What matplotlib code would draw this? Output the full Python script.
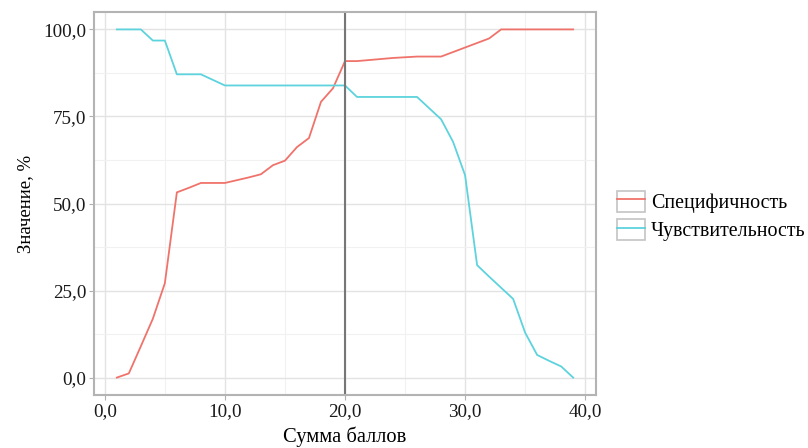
import numpy as np
import matplotlib.pyplot as plt
from matplotlib.lines import Line2D
from matplotlib.patches import Patch
from matplotlib.legend_handler import HandlerTuple
from matplotlib.ticker import MultipleLocator, FuncFormatter

plt.rcParams['font.family'] = ['Liberation Serif', 'DejaVu Serif']

# Сумма баллов и значения чувствительности / специфичности, %
score = list(range(1, 40))
specificity = [0.0, 1.2, 9.0, 16.9, 27.1, 53.2, 54.5, 55.9, 55.9, 55.9,
               56.7, 57.5, 58.4, 61.0, 62.3, 66.2, 68.8, 79.2, 83.1, 90.9,
               90.9, 91.2, 91.5, 91.8, 92.0, 92.2, 92.2, 92.2, 93.5, 94.8,
               96.1, 97.4, 100.0, 100.0, 100.0, 100.0, 100.0, 100.0, 100.0]
sensitivity = [100.0, 100.0, 100.0, 96.8, 96.8, 87.1, 87.1, 87.1, 85.5, 83.9,
               83.9, 83.9, 83.9, 83.9, 83.9, 83.9, 83.9, 83.9, 83.9, 83.9,
               80.6, 80.6, 80.6, 80.6, 80.6, 80.6, 77.4, 74.2, 67.7, 58.1,
               32.3, 29.0, 25.8, 22.6, 12.9, 6.5, 4.8, 3.2, 0.0]
cutoff = 20

red = '#F0736B'
cyan = '#5DD3DD'

fig = plt.figure(figsize=(8.08, 4.48), dpi=100)
ax = fig.add_axes([94 / 808, 1 - 395 / 448, 502 / 808, 383 / 448])

ax.plot(score, specificity, color=red, lw=1.3, label='Специфичность')
ax.plot(score, sensitivity, color=cyan, lw=1.3, label='Чувствительность')
ax.axvline(cutoff, color='#777777', lw=1.5)

ax.set_xlim(-0.9, 40.9)
ax.set_ylim(-5, 105)
ax.xaxis.set_major_locator(MultipleLocator(10))
ax.xaxis.set_minor_locator(MultipleLocator(5))
ax.yaxis.set_major_locator(MultipleLocator(25))
ax.yaxis.set_minor_locator(MultipleLocator(12.5))
fmt = FuncFormatter(lambda v, p: f'{v:.1f}'.replace('.', ','))
ax.xaxis.set_major_formatter(fmt)
ax.yaxis.set_major_formatter(fmt)

ax.grid(which='major', color='#e3e3e3', lw=1.0)
ax.grid(which='minor', color='#f1f1f1', lw=0.8)
ax.set_axisbelow(True)
ax.tick_params(which='major', length=3.5, color='#b0b0b0', labelsize=13.8,
               labelcolor='#1a1a1a', pad=2)
ax.tick_params(which='minor', length=0)
for s in ax.spines.values():
    s.set_color('#b3b3b3')
    s.set_linewidth(1.5)

ax.set_xlabel('Сумма баллов', fontsize=14.8, labelpad=5)
ax.set_ylabel('Значение, %', fontsize=13.5, labelpad=7)

box = dict(facecolor='white', edgecolor='#c4c4c4', lw=1.2)
handles = [(Patch(**box), Line2D([], [], color=red, lw=1.3)),
           (Patch(**box), Line2D([], [], color=cyan, lw=1.3))]
fig.legend(handles, ['Специфичность', 'Чувствительность'],
           handler_map={tuple: HandlerTuple(ndivide=1, pad=0)},
           loc='center left', bbox_to_anchor=(617 / 808, 1 - 216 / 448),
           frameon=False, fontsize=14.4, handlelength=1.4, handleheight=1.25,
           handletextpad=0.3, labelspacing=0.3, borderaxespad=0,
           borderpad=0)

fig.savefig('out.png', dpi=100)
